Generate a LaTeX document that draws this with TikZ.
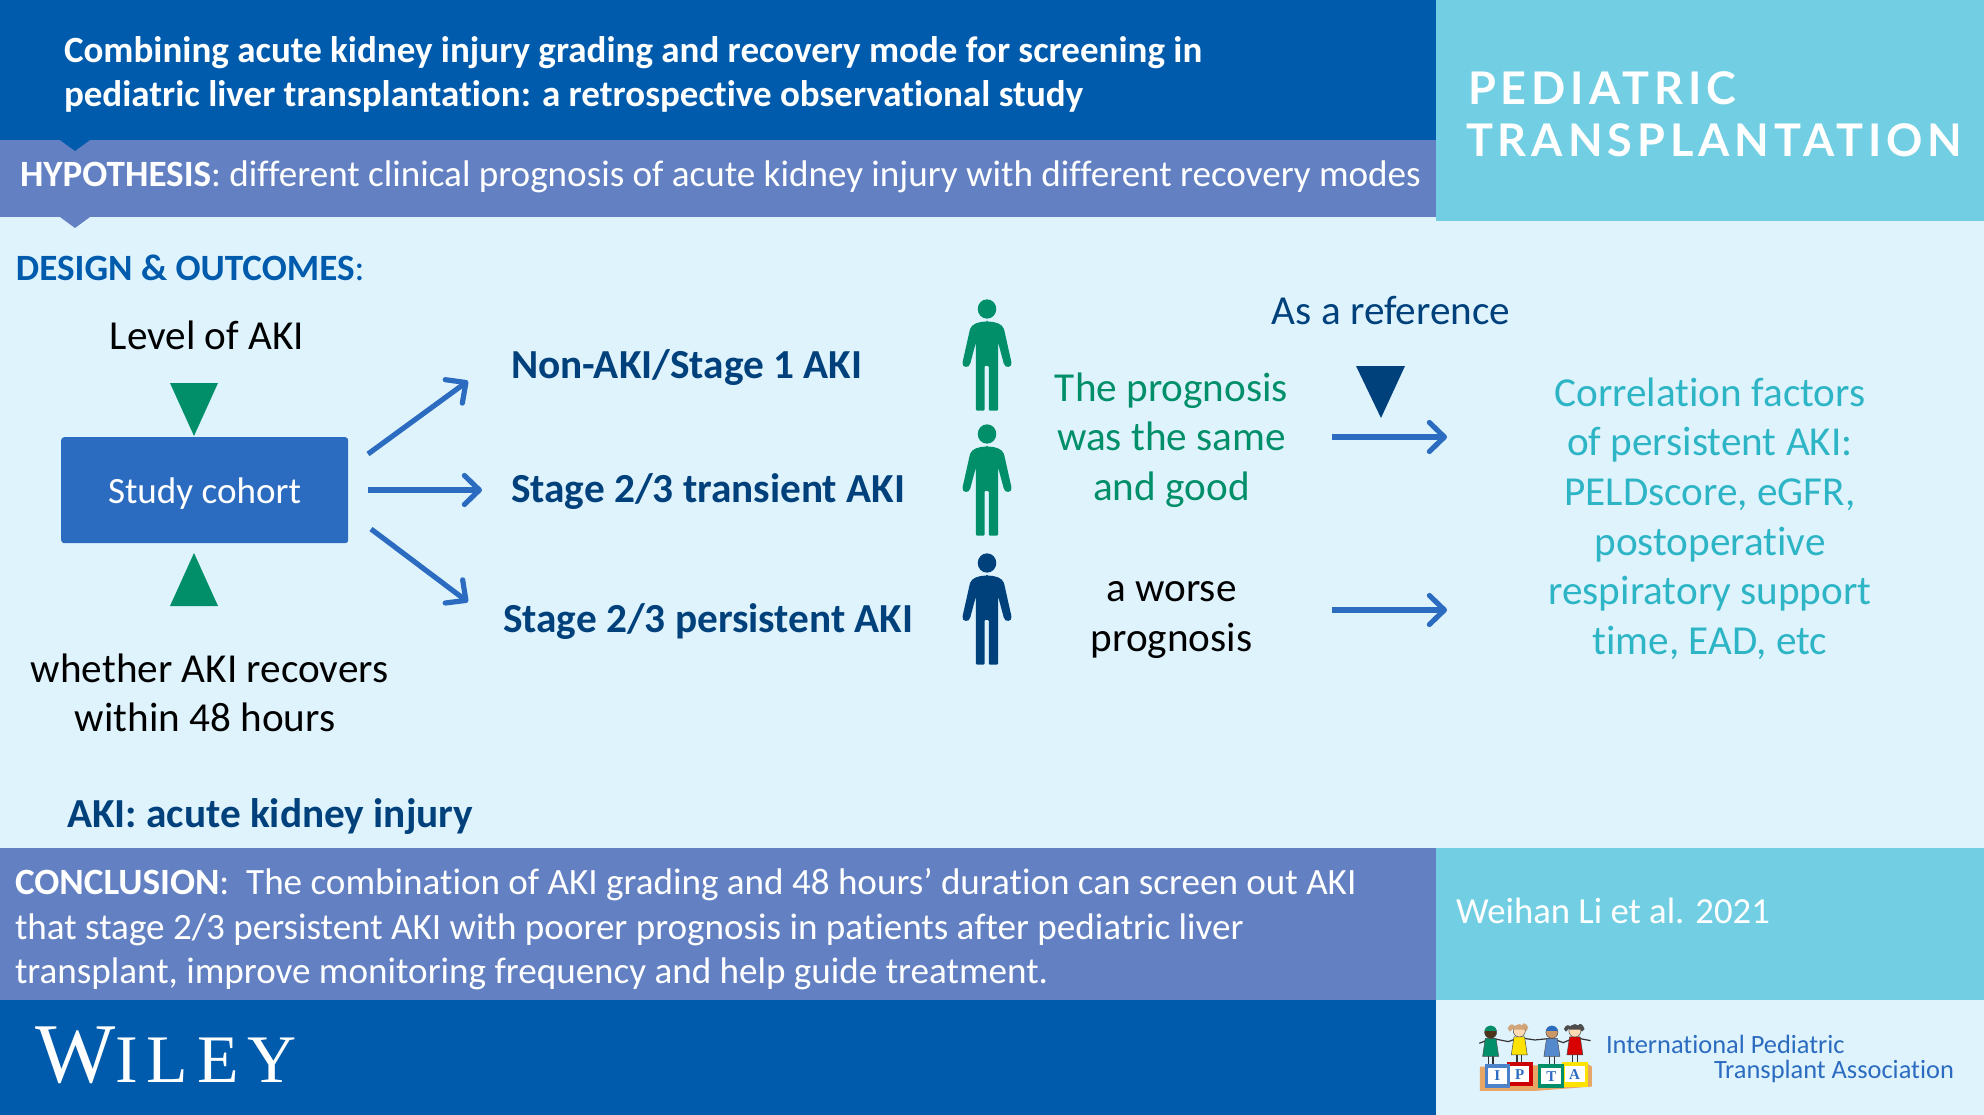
\documentclass[tikz,border=0pt]{standalone}
\usepackage{fontspec}
\usetikzlibrary{arrows.meta}
\setmainfont[Ligatures=CommonOff]{Carlito}
\newfontfamily\pedfont[LetterSpace=11]{Lato}
\newfontfamily\wileyfont{Liberation Serif}
\newfontfamily\wileyfontb[LetterSpace=13]{Liberation Serif}
\definecolor{bandblue}{HTML}{005BAC}
\definecolor{midblue}{HTML}{6381C2}
\definecolor{teal}{HTML}{72CFE3}
\definecolor{bodybg}{HTML}{DFF3FD}
\definecolor{mygreen}{HTML}{008F68}
\definecolor{boxblue}{HTML}{2B6CC0}
\definecolor{navy}{HTML}{00417C}
\definecolor{cyantext}{HTML}{2DB5C6}
\tikzset{
  txt/.style={inner sep=0,outer sep=0,anchor=base west},
  ctxt/.style={inner sep=0,outer sep=0,anchor=base},
  big/.style={font=\fontsize{41.2}{49}\selectfont},
  head/.style={font=\fontsize{37.1}{44}\selectfont},
  headb/.style={font=\bfseries\fontsize{37}{44}\selectfont},
  sub/.style={font=\bfseries\fontsize{41.3}{47}\selectfont,text=navy},
  flow/.style={draw=boxblue,line width=5.2pt,-{Straight Barb[length=15pt,width=29pt,line width=5.2pt,round]}},
  pics/person/.style={code={
    \fill[#1] (0,0) circle[x radius=26,y radius=29];
    \fill[#1,rounded corners=1pt] (0,38) .. controls (25,38) and (42,45) .. (48,62) -- (68,158)
      .. controls (71,176) and (50,180) .. (46,160) -- (31,100) -- (31,305) -- (5,305) -- (5,171)
      -- (-7,171) -- (-7,305) -- (-31,305) -- (-31,100) -- (-46,160)
      .. controls (-50,180) and (-71,176) .. (-68,158) -- (-48,62) .. controls (-42,45) and (-25,38) .. (0,38) -- cycle;
  }},
  pics/kid/.style n args={3}{code={
    \fill[black!80] (-9,72) rectangle (-5,106);
    \fill[black!80] (5,72) rectangle (9,106);
    \fill[#2,draw=black!70,line width=.5pt] (-16,18) -- (16,18) -- (24,72) -- (-24,72) -- cycle;
    \fill[#1,draw=black!70,line width=.5pt] (0,0) circle[radius=18];
    \fill[#3] (-18,-4) .. controls (-14,-26) and (14,-26) .. (18,-4) -- cycle;
    \fill[black!80] (-14,104) rectangle (-2,110);
    \fill[black!80] (2,104) rectangle (14,110);
  }},
}
\begin{document}
\begin{tikzpicture}[x=1pt,y=-1pt]
\useasboundingbox (0,0) rectangle (1984,1115);
% bands
\fill[bodybg] (0,0) rectangle (1984,1115);
\fill[bandblue] (0,0) rectangle (1436,140);
\fill[midblue] (0,140) rectangle (1436,217);
\fill[teal] (1436,0) rectangle (1984,221);
\fill[midblue] (0,848) rectangle (1436,1000);
\fill[teal] (1436,848) rectangle (1984,1000);
\fill[bandblue] (0,1000) rectangle (1436,1115);
\fill[bandblue] (60,140) -- (90,140) -- (75,151) -- cycle;
\fill[midblue] (60,217) -- (90,217) -- (75,228) -- cycle;
% heading
\node[txt,headb,text=white] (t1) at (64,62.5) {Combining acute kidney injury grading and recovery mode for screening in};
\node[txt,headb,text=white] (t2) at (64,106.5) {pediatric liver transplantation: a retrospective observational study};
\node[txt,head,text=white] (hyp) at (20,186.5) {\textbf{HYPOTHESIS}: different clinical prognosis of acute kidney injury with different recovery modes};
\node[txt,head,text=bandblue] (des) at (16,281) {\textbf{DESIGN \& OUTCOMES}:};
\node[txt,font=\pedfont\bfseries\fontsize{45}{50}\selectfont,text=white] (p1) at (1468,105) {PEDIATRIC};
\node[txt,font=\pedfont\bfseries\fontsize{45}{50}\selectfont,text=white] (p2) at (1466,157) {TRANSPLANTATION};
% left
\node[ctxt,big] (lvl) at (207,349) {Level of AKI};
\fill[mygreen] (170,383) -- (218,383) -- (194,436) -- cycle;
\node[fill=boxblue,rounded corners=3pt,minimum width=287pt,minimum height=106pt,inner sep=0,anchor=north west] (box) at (61,437) {};
\node[ctxt,font=\fontsize{37.1}{44}\selectfont,text=white] (sc) at (204.5,503) {Study cohort};
\fill[mygreen] (194,553) -- (218,606) -- (170,606) -- cycle;
\node[ctxt,big] (w1) at (209.5,682) {whether AKI recovers};
\node[ctxt,big] (w2) at (205,731) {within 48 hours};
\coordinate (a1s) at (368,454); \coordinate (a1e) at (468,381);
\coordinate (a2s) at (368,490); \coordinate (a2e) at (482,490);
\coordinate (a3s) at (371,529); \coordinate (a3e) at (468,602);
\draw[flow] (a1s) -- (a1e);
\draw[flow] (a2s) -- (a2e);
\draw[flow] (a3s) -- (a3e);
\node[txt,sub] (s1) at (511,378) {Non-AKI/Stage 1 AKI};
\node[txt,sub] (s2) at (511,502.5) {Stage 2/3 transient AKI};
\node[txt,sub] (s3) at (503,632) {Stage 2/3 persistent AKI};
% people
\pic[xscale=.357,yscale=.333] at (987,309) {person=mygreen};
\pic[xscale=.357,yscale=.333] at (987,434) {person=mygreen};
\pic[xscale=.357,yscale=.333] at (987,563) {person=navy};
% middle
\node[ctxt,big,text=navy] (ref) at (1391,325) {As a reference};
\fill[navy] (1356,366) -- (1405,366) -- (1381,418) -- cycle;
\node[ctxt,big,text=mygreen] (g1) at (1171.5,401) {The prognosis};
\node[ctxt,big,text=mygreen] (g2) at (1171.5,450) {was the same};
\node[ctxt,big,text=mygreen] (g3) at (1171.5,500.5) {and good};
\node[ctxt,big] (b1) at (1171.5,601) {a worse};
\node[ctxt,big] (b2) at (1171.5,651) {prognosis};
\coordinate (a4s) at (1332,437); \coordinate (a4e) at (1447,437);
\coordinate (a5s) at (1332,610); \coordinate (a5e) at (1447,610);
\draw[flow] (a4s) -- (a4e);
\draw[flow] (a5s) -- (a5e);
% right
\node[ctxt,big,text=cyantext] (r1) at (1710,406) {Correlation factors};
\node[ctxt,big,text=cyantext] (r2) at (1710,455) {of persistent AKI:};
\node[ctxt,big,text=cyantext] (r3) at (1710,505.5) {PELDscore, eGFR,};
\node[ctxt,big,text=cyantext] (r4) at (1710,555) {postoperative};
\node[ctxt,big,text=cyantext] (r5) at (1710,604.5) {respiratory support};
\node[ctxt,big,text=cyantext] (r6) at (1710,654) {time, EAD, etc};
\node[txt,sub] (def) at (67,827) {AKI: acute kidney injury};
% conclusion
\node[txt,head,text=white] (c1) at (15,894.5) {\textbf{CONCLUSION}:\ \ The combination of AKI grading and 48 hours’ duration can screen out AKI};
\node[txt,head,text=white] (c2) at (15,939.5) {that stage 2/3 persistent AKI with poorer prognosis in patients after pediatric liver};
\node[txt,head,text=white] (c3) at (15,983.5) {transplant, improve monitoring frequency and help guide treatment.};
\node[txt,font=\fontsize{36.7}{44}\selectfont,text=white] (auth) at (1456,923) {Weihan Li et al. 2021};
% Wiley
\node[txt,font=\wileyfont\fontsize{85}{85}\selectfont,text=white] (wl) at (35,1082) {W\wileyfontb\fontsize{68}{68}\selectfont ILEY};
% IPTA logo
\begin{scope}[shift={(1460,1005)},x=.333pt,y=-.333pt]
  \draw[black!80,line width=1.2pt] (58,115) -- (95,100) -- (145,110) -- (178,98) -- (225,105) -- (275,100) -- (310,113) -- (345,98) -- (392,107);
  \fill[brown!70] (143,70) .. controls (150,55) and (160,55) .. (165,65) -- (150,80) -- cycle;
  \fill[brown!70] (205,68) .. controls (198,52) and (190,52) .. (186,62) -- (198,80) -- cycle;
  \fill[black!70] (312,72) .. controls (318,58) and (328,58) .. (332,66) -- (318,80) -- cycle;
  \fill[black!70] (374,72) .. controls (368,54) and (358,54) .. (355,62) -- (366,80) -- cycle;
  \pic at (92,82) {kid={black!60!brown}{mygreen}{mygreen}};
  \pic at (178,78) {kid={orange!30}{yellow!85!orange}{brown!70}};
  \pic at (276,82) {kid={brown!80}{boxblue!80}{boxblue}};
  \pic at (345,78) {kid={orange!30}{red!85!black}{black!70}};
  \fill[brown!55!orange!70] (60,185) -- (385,178) -- (396,185) -- (396,245) -- (225,258) -- (60,258) -- cycle;
  \fill[red!80!black] (140,172) rectangle (218,242);
  \fill[yellow!85!orange] (306,172) rectangle (385,245);
  \fill[boxblue!85] (75,178) rectangle (150,248);
  \fill[mygreen] (235,178) rectangle (312,248);
  \fill[white] (84,190) rectangle (140,236);
  \fill[white] (150,182) rectangle (208,232);
  \fill[white] (244,190) rectangle (304,238);
  \fill[white] (315,182) rectangle (374,232);
  \node[ctxt,font=\wileyfont\bfseries\fontsize{15}{15}\selectfont,text=boxblue] (li) at (112,228) {I};
  \node[ctxt,font=\wileyfont\bfseries\fontsize{15}{15}\selectfont,text=boxblue] (lp) at (179,224) {P};
  \node[ctxt,font=\wileyfont\bfseries\fontsize{15}{15}\selectfont,text=boxblue] (lt) at (274,230) {T};
  \node[ctxt,font=\wileyfont\bfseries\fontsize{15}{15}\selectfont,text=boxblue] (la) at (344,224) {A};
\end{scope}
\node[txt,font=\fontsize{26.4}{28}\selectfont,text=boxblue] (o1) at (1606,1053) {International Pediatric};
\node[txt,font=\fontsize{26.4}{28}\selectfont,text=boxblue] (o2) at (1714,1078) {Transplant Association};
\end{tikzpicture}
\end{document}
